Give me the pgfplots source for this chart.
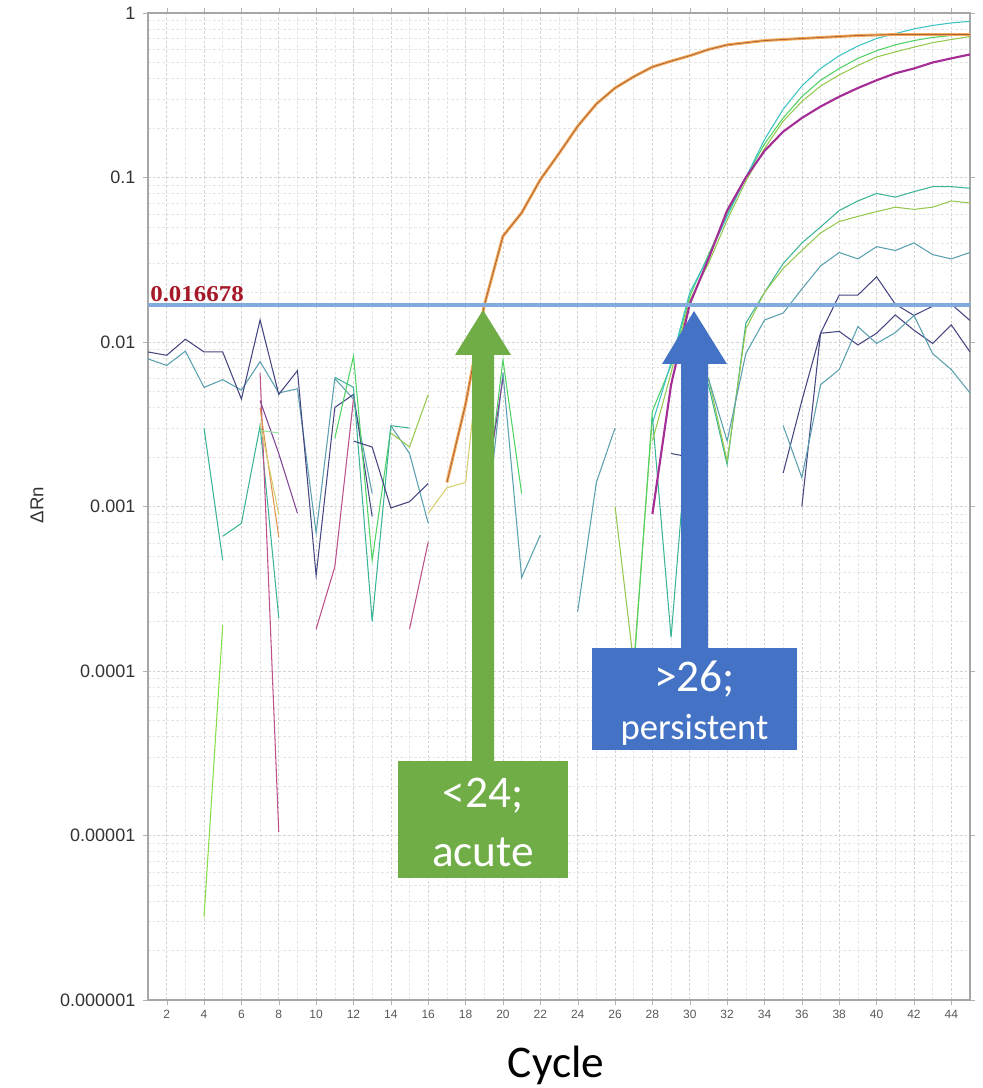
\documentclass[border=0pt]{standalone}
\usepackage{fontspec}
\setmainfont{Liberation Sans}
\newfontfamily\calibri{Carlito}
\newfontfamily\serifb{Liberation Serif}
\usepackage{pgfplots}
\pgfplotsset{compat=1.18}
\definecolor{navy}{RGB}{70,70,130}
\definecolor{tealc}{RGB}{90,160,175}
\definecolor{cyanc}{RGB}{60,195,195}
\definecolor{greenc}{RGB}{80,210,100}
\definecolor{ygreen}{RGB}{150,200,80}
\definecolor{yellowc}{RGB}{215,205,110}
\definecolor{magentac}{RGB}{165,45,150}
\definecolor{pinkc}{RGB}{190,80,140}
\definecolor{orangec}{RGB}{245,170,90}
\definecolor{brownc}{RGB}{170,100,55}
\definecolor{tgreen}{RGB}{60,180,150}
\definecolor{purplec}{RGB}{130,70,150}
\definecolor{thr}{RGB}{130,170,220}
\definecolor{thrtext}{RGB}{165,25,40}
\definecolor{gArrow}{RGB}{112,173,71}
\definecolor{bArrow}{RGB}{68,114,196}
\begin{document}
\begin{tikzpicture}
\useasboundingbox (0,0) rectangle (736.5pt,816pt);
\begin{axis}[
 at={(111pt,66pt)}, anchor=south west,
 scale only axis, width=616.5pt, height=740.25pt,
 ymode=log, xmin=1, xmax=45, ymin=1e-6, ymax=1,
 xtick={2,4,...,44}, minor x tick num=1,
 ytick={1e-6,1e-5,1e-4,1e-3,1e-2,1e-1,1},
 yticklabels={0.000001,0.00001,0.0001,0.001,0.01,0.1,1},
 minor ytick={2e-6,3e-6,4e-6,5e-6,6e-6,7e-6,8e-6,9e-6,2e-5,3e-5,4e-5,5e-5,6e-5,7e-5,8e-5,9e-5,2e-4,3e-4,4e-4,5e-4,6e-4,7e-4,8e-4,9e-4,2e-3,3e-3,4e-3,5e-3,6e-3,7e-3,8e-3,9e-3,2e-2,3e-2,4e-2,5e-2,6e-2,7e-2,8e-2,9e-2,0.2,0.3,0.4,0.5,0.6,0.7,0.8,0.9},
 grid=both,
 major grid style={gray!35, dash pattern=on 2pt off 1.5pt, line width=0.5pt},
 minor grid style={gray!20, dash pattern=on 2pt off 1.5pt, line width=0.4pt},
 axis line style={gray!70, line width=0.8pt},
 major tick length=4pt, minor tick length=0pt,
 tick style={gray!60},
 tick align=outside,
 xticklabel style={font=\fontsize{9}{9}\selectfont, text=black!65},
 yticklabel style={font=\fontsize{13.5}{13.5}\selectfont, text=black!80, xshift=-2pt},
 /pgf/number format/assume math mode=true,
 every axis plot/.append style={line width=0.8pt, no markers},
]
% ---- noisy baseline segments ----
\addplot[tealc] coordinates {(1,0.0079)(2,0.0072)(3,0.0088)(4,0.0053)(5,0.0059)(6,0.0051)(7,0.0076)(8,0.0049)(9,0.0052)(10,0.00069)(11,0.0060)(12,0.0045)(13,0.0012)};
\addplot[navy] coordinates {(1,0.0087)(2,0.0083)(3,0.0104)(4,0.0087)(5,0.0087)(6,0.0045)(7,0.0136)(8,0.0048)(9,0.0067)(10,0.00038)(11,0.0040)(12,0.0048)(13,0.00087)};
\addplot[tgreen] coordinates {(4,0.0030)(5,0.00047)};
\addplot[tgreen] coordinates {(5,0.00066)(6,0.00079)(7,0.0031)(8,0.00021)};
\addplot[greenc!70!yellow] coordinates {(4,3.2e-6)(5,0.00019)};
\addplot[pinkc] coordinates {(7,0.0065)(8,1.05e-5)};
\addplot[purplec] coordinates {(7,0.0044)(8,0.0021)(9,0.00091)};
\addplot[orangec!70!brownc] coordinates {(7,0.0040)(8,0.00065)};
\addplot[yellowc] coordinates {(7,0.0032)(8,0.0009)};
\addplot[greenc!60] coordinates {(7,0.0029)(8,0.0028)};
\addplot[pinkc] coordinates {(10,0.00018)(11,0.00043)(12,0.0045)};
\addplot[greenc] coordinates {(11,0.0026)(12,0.0082)(13,0.00047)(14,0.0030)};
\addplot[tgreen] coordinates {(11,0.0061)(12,0.0053)(13,0.0002)(14,0.0031)(15,0.0030)};
\addplot[tealc] coordinates {(14,0.0031)(15,0.0021)(16,0.00079)};
\addplot[ygreen] coordinates {(14,0.0028)(15,0.0023)(16,0.0048)};
\addplot[pinkc] coordinates {(15,0.00018)(16,0.00061)};
\addplot[navy] coordinates {(12,0.0025)(13,0.0023)(14,0.00098)(15,0.00107)(16,0.00138)};
\addplot[yellowc] coordinates {(16,0.00091)(17,0.0013)(18,0.0014)(19,0.0160)};
\addplot[greenc] coordinates {(19,0.0009)(20,0.0078)(21,0.0012)};
\addplot[tealc] coordinates {(19,0.0006)(20,0.0065)(21,0.00037)(22,0.00067)};
\addplot[purplec] coordinates {(19,0.0011)(20,0.0060)};
\addplot[tealc] coordinates {(24,0.00023)(25,0.0014)(26,0.0030)};
\addplot[ygreen] coordinates {(26,0.0010)(27,0.00011)(28,0.0035)};
\addplot[tgreen] coordinates {(28,0.0035)(29,0.00016)(30,0.004)};
\addplot[navy] coordinates {(29,0.0021)(30,0.0020)(31,0.0019)};
% ---- lower plateau curves ----
\addplot[tgreen] coordinates {(30,0.004)(31,0.0055)(32,0.0018)(33,0.013)(34,0.020)(35,0.030)(36,0.040)(37,0.050)(38,0.063)(39,0.072)(40,0.080)(41,0.076)(42,0.082)(43,0.088)(44,0.088)(45,0.086)};
\addplot[ygreen] coordinates {(30,0.0035)(31,0.006)(32,0.0019)(33,0.012)(34,0.020)(35,0.028)(36,0.036)(37,0.046)(38,0.054)(39,0.058)(40,0.062)(41,0.066)(42,0.064)(43,0.066)(44,0.072)(45,0.070)};
\addplot[tealc] coordinates {(31,0.006)(32,0.0025)(33,0.0085)(34,0.0136)(35,0.015)(36,0.021)(37,0.029)(38,0.035)(39,0.032)(40,0.038)(41,0.036)(42,0.040)(43,0.034)(44,0.032)(45,0.035)};
\addplot[navy] coordinates {(35,0.0016)(36,0.0044)(37,0.0113)(38,0.0193)(39,0.0193)(40,0.0249)(41,0.017)(42,0.0145)(43,0.0165)(44,0.017)(45,0.0135)};
\addplot[navy] coordinates {(36,0.001)(37,0.0113)(38,0.0116)(39,0.0096)(40,0.0113)(41,0.0146)(42,0.0118)(43,0.0098)(44,0.0127)(45,0.0087)};
\addplot[tealc] coordinates {(35,0.0031)(36,0.0015)(37,0.0055)(38,0.0068)(39,0.0124)(40,0.0098)(41,0.0114)(42,0.0145)(43,0.0085)(44,0.0068)(45,0.0049)};
% ---- persistent amplification curves ----
\addplot[greenc] coordinates {(27,0.0001)(28,0.0038)(29,0.0072)(30,0.019)(31,0.034)(32,0.060)(33,0.10)(34,0.16)(35,0.23)(36,0.31)(37,0.39)(38,0.46)(39,0.53)(40,0.59)(41,0.64)(42,0.68)(43,0.71)(44,0.73)(45,0.75)};
\addplot[ygreen] coordinates {(28,0.0025)(29,0.0065)(30,0.018)(31,0.030)(32,0.055)(33,0.095)(34,0.15)(35,0.22)(36,0.29)(37,0.36)(38,0.42)(39,0.48)(40,0.54)(41,0.58)(42,0.62)(43,0.66)(44,0.69)(45,0.72)};
\addplot[cyanc] coordinates {(28,0.0032)(29,0.0075)(30,0.020)(31,0.033)(32,0.058)(33,0.10)(34,0.17)(35,0.26)(36,0.36)(37,0.46)(38,0.55)(39,0.63)(40,0.70)(41,0.75)(42,0.80)(43,0.84)(44,0.87)(45,0.89)};
\addplot[magentac, line width=1.6pt] coordinates {(28,0.0009)(29,0.0055)(30,0.017)(31,0.032)(32,0.063)(33,0.10)(34,0.145)(35,0.19)(36,0.23)(37,0.27)(38,0.31)(39,0.35)(40,0.39)(41,0.43)(42,0.46)(43,0.50)(44,0.53)(45,0.56)};
% ---- acute curve ----
\addplot[orangec, line width=2.2pt] coordinates {(17,0.0014)(18,0.0042)(19,0.0167)(20,0.044)(21,0.061)(22,0.097)(23,0.14)(24,0.205)(25,0.28)(26,0.35)(27,0.41)(28,0.47)(29,0.51)(30,0.55)(31,0.60)(32,0.64)(33,0.66)(34,0.68)(35,0.69)(36,0.70)(37,0.71)(38,0.72)(39,0.73)(40,0.735)(41,0.74)(42,0.74)(43,0.74)(44,0.74)(45,0.74)};
\addplot[brownc, line width=0.6pt] coordinates {(17,0.0014)(18,0.0042)(19,0.0167)(20,0.044)(21,0.061)(22,0.097)(23,0.14)(24,0.205)(25,0.28)(26,0.35)(27,0.41)(28,0.47)(29,0.51)(30,0.55)(31,0.60)(32,0.64)(33,0.66)(34,0.68)(35,0.69)(36,0.70)(37,0.71)(38,0.72)(39,0.73)(40,0.735)(41,0.74)(42,0.74)(43,0.74)(44,0.74)(45,0.74)};
% ---- threshold ----
\addplot[thr, line width=3pt] coordinates {(1,0.016678)(45,0.016678)};
\end{axis}
\begin{scope}[x=0.75pt, y=-0.75pt, shift={(0,816pt)}]
 \node[anchor=base west, inner sep=0, text=thrtext, font=\serifb\bfseries\fontsize{17}{17}\selectfont, xscale=1.1] at (150,302) {0.016678};
 % green arrow + box
 \fill[gArrow] (472,761) -- (472,355) -- (455,355) -- (483,310) -- (511,355) -- (494,355) -- (494,761) -- cycle;
 \fill[gArrow] (398,761) rectangle (568,878);
 \node[anchor=base, inner sep=0, text=white, font=\calibri\fontsize{34}{34}\selectfont] at (483,808) {<24;};
 \node[anchor=base, inner sep=0, text=white, font=\calibri\fontsize{34}{34}\selectfont] at (483,867) {acute};
 % blue arrow + box
 \fill[bArrow] (681,648) -- (681,364) -- (662,364) -- (694,311) -- (727,364) -- (708,364) -- (708,648) -- cycle;
 \fill[bArrow] (592,648) rectangle (797,750);
 \node[anchor=base, inner sep=0, text=white, font=\calibri\fontsize{34}{34}\selectfont] at (694.5,692) {>26;};
 \node[anchor=base, inner sep=0, text=white, font=\calibri\fontsize{27.5}{27.5}\selectfont] at (694.5,740) {persistent};
 % axis titles
 \node[rotate=90, inner sep=0, text=black!80, font=\fontsize{14}{14}\selectfont] at (37,505) {ΔRn};
 \node[anchor=base, inner sep=0, font=\calibri\fontsize{34}{34}\selectfont] at (556,1078) {Cycle};
\end{scope}
\end{tikzpicture}
\end{document}
